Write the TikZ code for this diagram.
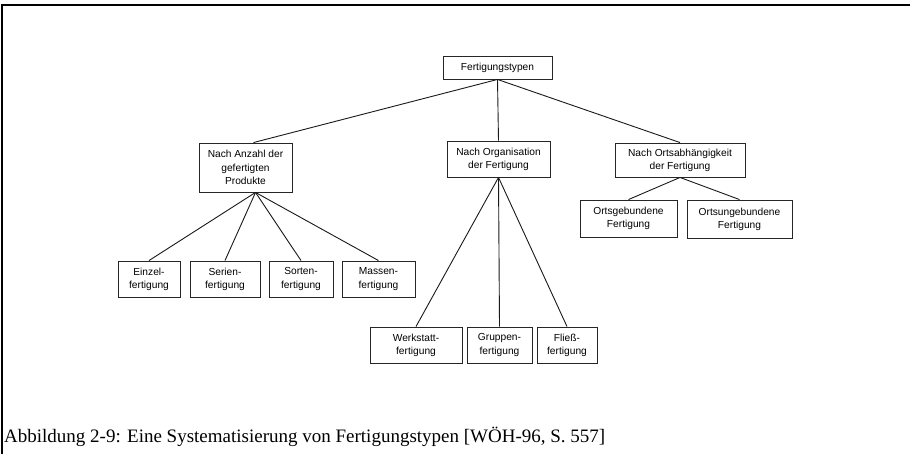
\documentclass[tikz,border=0pt]{standalone}
\usepackage{fontspec}
\setmainfont{Liberation Serif}
\newfontfamily\boxfont{Liberation Sans}
\begin{document}
\begin{tikzpicture}[x=1pt,y=-1pt,
  treebox/.style={draw=black!85, line width=0.9pt, inner sep=0pt, align=center,
    font=\boxfont\fontsize{10.2}{13.2}\selectfont},
  link/.style={line width=0.9pt, black!90},
  frameline/.style={line width=1.4pt, black}]
  \useasboundingbox (0,0) rectangle (910,454);

  % frame: top and left edge
  \coordinate (ftl) at (2,5);
  \coordinate (ftr) at (910,5);
  \coordinate (fbl) at (2,454);
  \draw[frameline] (ftr) -- (ftl) -- (fbl);

  % root
  \node[treebox, minimum width=109pt, minimum height=23pt] (root) at (497.5,67.5) {Fertigungstypen};

  % second level
  \node[treebox, minimum width=93pt, minimum height=49pt] (anz) at (245.5,167.5) {Nach Anzahl der\\gefertigten\\Produkte};
  \node[treebox, minimum width=103pt, minimum height=36pt] (org) at (498.5,159) {Nach Organisation\\der Fertigung};
  \node[treebox, minimum width=130pt, minimum height=34pt] (ort) at (680,160) {Nach Ortsabhängigkeit\\der Fertigung};

  % children of "Nach Anzahl"
  \node[treebox, minimum width=62pt, minimum height=36pt] (ein) at (149,279) {Einzel-\\fertigung};
  \node[treebox, minimum width=70pt, minimum height=36pt] (ser) at (225,279) {Serien-\\fertigung};
  \node[treebox, minimum width=64pt, minimum height=36pt] (sor) at (301,279) {Sorten-\\fertigung};
  \node[treebox, minimum width=73pt, minimum height=36pt] (mas) at (378.5,279) {Massen-\\fertigung};

  % children of "Nach Organisation"
  \node[treebox, minimum width=92pt, minimum height=36pt] (wer) at (416,345) {Werkstatt-\\fertigung};
  \node[treebox, minimum width=65pt, minimum height=36pt] (gru) at (499.5,345) {Gruppen-\\fertigung};
  \node[treebox, minimum width=60pt, minimum height=36pt] (fli) at (567,345) {Fließ-\\fertigung};

  % children of "Nach Ortsabhängigkeit"
  \node[treebox, minimum width=97pt, minimum height=37pt] (ogb) at (628.5,218.5) {Ortsgebundene\\Fertigung};
  \node[treebox, minimum width=105pt, minimum height=38pt] (oug) at (739.5,219) {Ortsungebundene\\Fertigung};

  % connectors
  \draw[link] (root.south) -- ([xshift=8pt]anz.north);
  \draw[link] (root.south) -- (org.north);
  \draw[link] (root.south) -- (ort.north);

  \coordinate (anzhub) at ([xshift=10pt]anz.south);
  \foreach \c in {ein,ser,sor,mas} \draw[link] (anzhub) -- (\c.north);
  \foreach \c in {wer,gru,fli} \draw[link] (org.south) -- (\c.north);
  \foreach \c in {ogb,oug} \draw[link] (ort.south) -- (\c.north);

  % caption
  \node[anchor=base west, inner sep=0pt, font=\fontsize{19}{22}\selectfont] (cap) at (4,442)
    {Abbildung 2-9: Eine Systematisierung von Fertigungstypen [WÖH-96, S. 557]};
\end{tikzpicture}
\end{document}
